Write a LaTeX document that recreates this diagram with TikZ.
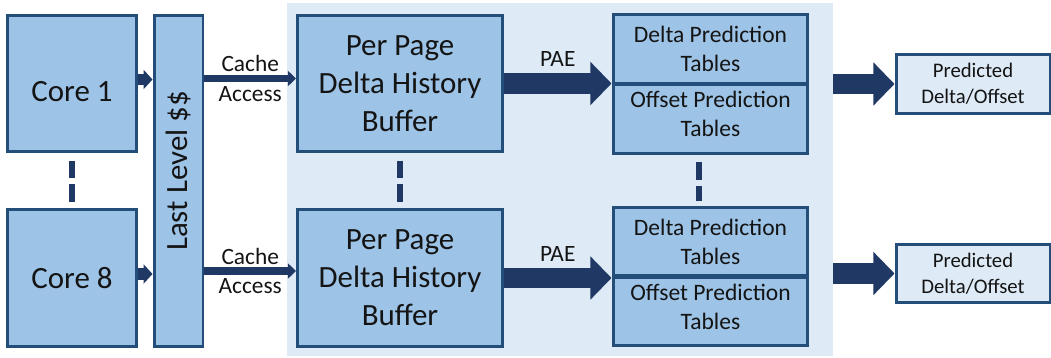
\documentclass[tikz,border=0pt]{standalone}
\usepackage{fontspec}
\setmainfont{Carlito}
\usetikzlibrary{arrows.meta,positioning,calc}

\definecolor{boxfill}{RGB}{157,195,230}
\definecolor{boxline}{RGB}{35,78,122}
\definecolor{arrowblue}{RGB}{31,56,100}
\definecolor{panelblue}{RGB}{222,235,247}
\definecolor{inktext}{RGB}{20,20,20}

\begin{document}
\begin{tikzpicture}[x=0.02cm, y=-0.02cm,
    unit/.style={draw=boxline, line width=1.7pt, fill=boxfill, inner sep=0pt, align=center,
                 text=inktext, font=\fontsize{17.6}{21.6}\selectfont},
    table/.style={unit, minimum width=3.9cm, minimum height=1.37cm,
                  font=\fontsize{13.4}{16.5}\selectfont},
    result/.style={unit, fill=panelblue, minimum width=3.08cm, minimum height=1.17cm,
                   font=\fontsize{11.8}{14.6}\selectfont},
    lbl/.style={inner sep=0pt, align=center, text=inktext, font=\fontsize{13.3}{17}\selectfont},
    feed/.style={arrowblue, line width=6.3pt, -{Triangle[length=5.1pt, width=10.8pt]}},
    access/.style={arrowblue, line width=4pt, -{Triangle[length=4.6pt, width=8.5pt]}},
    bulk/.style={arrowblue, line width=11.9pt, -{Triangle[length=12pt, width=23.9pt]}},
    dots/.style={arrowblue, line width=3.4pt, dash pattern=on 10.2pt off 3.4pt}]

    \useasboundingbox (0,0) rectangle (1051,358);

    % draw the background
    \node[fill=panelblue, inner sep=0pt, minimum width=10.92cm, minimum height=7.06cm] (stage) at (560,179.5) {};

    % cores and the shared cache
    \node[unit, minimum width=2.6cm, minimum height=2.74cm, text height=21pt] (core1) at (72,83.5) {Core 1};
    \node[unit, minimum width=2.6cm, minimum height=2.76cm] (core8) at (72,278) {Core 8};
    \node[unit, minimum width=0.98cm, minimum height=6.64cm] (llc) at (178.5,181) {};
    \node[rotate=90, inner sep=0pt, text=inktext, font=\fontsize{17.6}{21.6}\selectfont] (llctext) at ($(llc.center)+(0,-10)$) {Last Level \$\$};

    % per page history buffers
    \node[unit, minimum width=4.1cm, minimum height=2.74cm] (dhb1) at (400,83.5) {Per Page\\Delta History\\Buffer};
    \node[unit, minimum width=4.1cm, minimum height=2.74cm] (dhb2) at (400,278) {Per Page\\Delta History\\Buffer};

    % prediction tables
    \node[table] (dpt1) at (710.5,49) {Delta Prediction\\Tables};
    \node[table, below=-0.85pt of dpt1, text depth=5.7pt] (opt1) {Offset Prediction\\Tables};
    \node[table] (dpt2) at (710.5,241.5) {Delta Prediction\\Tables};
    \node[table, below=-0.85pt of dpt2, text depth=5.7pt] (opt2) {Offset Prediction\\Tables};

    % outputs
    \node[result] (pred1) at (973,84) {Predicted\\Delta/Offset};
    \node[result] (pred2) at (973,273.5) {Predicted\\Delta/Offset};

    % cores to cache
    \coordinate (c1out) at ($(core1.east)+(0,-4)$);
    \coordinate (c8out) at ($(core8.east)+(0,-4)$);
    \draw[feed] (c1out) -- (c1out -| llc.west);
    \draw[feed] (c8out) -- (c8out -| llc.west);

    % cache accesses
    \coordinate (acc1) at ($(dhb1.west)+(0,-5)$);
    \coordinate (acc2) at ($(dhb2.west)+(0,-7)$);
    \draw[access] (acc1 -| llc.east) -- node[lbl] {Cache\\Access} (acc1);
    \draw[access] (acc2 -| llc.east) -- node[lbl] {Cache\\Access} (acc2);

    % PAE into the tables
    \draw[bulk] (dhb1.east) -- node[lbl, above=3.7pt] {PAE} (dhb1.east -| dpt1.west);
    \draw[bulk] (dhb2.east) -- node[lbl, above=3.7pt] {PAE} (dhb2.east -| dpt2.west);

    % predictions out
    \draw[bulk] (stage.east |- pred1.west) -- (pred1.west);
    \draw[bulk] (stage.east |- pred2.west) -- (pred2.west);

    % vertical ellipses
    \draw[dots] ([yshift=-4pt]core1.south) -- ([yshift=2.6pt]core8.north);
    \draw[dots] ([yshift=-4pt]dhb1.south) -- ([yshift=2.6pt]dhb2.north);
    \draw[dots] ([xshift=-6.3pt,yshift=-4pt]opt1.south) -- ([xshift=-6.3pt,yshift=2.6pt]dpt2.north);
\end{tikzpicture}
\end{document}
